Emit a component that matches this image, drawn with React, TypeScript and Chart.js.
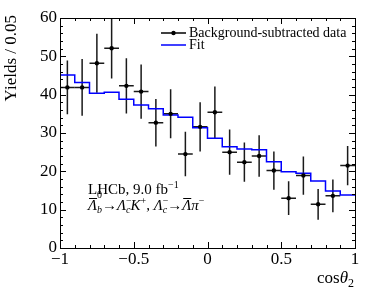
import React, { useEffect, useRef } from 'react';
import { Chart, registerables } from 'chart.js';

Chart.register(...registerables);

// ---- data ----
const binCenters = [-0.95, -0.85, -0.75, -0.65, -0.55, -0.45, -0.35, -0.25, -0.15, -0.05,
  0.05, 0.15, 0.25, 0.35, 0.45, 0.55, 0.65, 0.75, 0.85, 0.95];
const dataValues = [41.9, 41.9, 48.2, 52.1, 42.3, 40.8, 32.7, 35.0, 24.5, 31.6,
  35.4, 25.0, 22.4, 24.0, 20.2, 13.0, 18.9, 11.4, 13.6, 21.5];
const dataErrors = [7.0, 7.4, 7.7, 7.9, 7.2, 7.1, 6.2, 6.4, 5.8, 6.4,
  6.7, 5.9, 5.1, 5.4, 5.0, 4.4, 5.0, 4.0, 4.3, 5.1];
const binHalfWidth = 0.05;
const fitEdges = [-1, -0.9, -0.8, -0.7, -0.6, -0.5, -0.4, -0.3, -0.2, -0.1, 0,
  0.1, 0.2, 0.3, 0.4, 0.5, 0.6, 0.7, 0.8, 0.9, 1];
const fitValues = [45.1, 43.2, 40.4, 40.6, 38.8, 37.3, 36.3, 34.7, 34.1, 31.4,
  28.6, 26.4, 25.8, 25.6, 22.5, 19.9, 19.5, 17.5, 14.9, 13.8];
const legendLabels = ['Background-subtracted data', 'Fit'];
const yTitle = 'Yields / 0.05';

const SERIF = '"Liberation Serif", "DejaVu Serif", serif';

type Seg = { t: string; it?: boolean; sz?: number; dy?: number; ol?: boolean; noAdv?: boolean };

function drawSegs(ctx: CanvasRenderingContext2D, x: number, y: number, segs: Seg[], base: number) {
  let cx = x;
  for (const s of segs) {
    const size = s.sz ?? base;
    ctx.font = `${s.it ? 'italic ' : ''}${size}px ${SERIF}`;
    const w = ctx.measureText(s.t).width;
    ctx.fillText(s.t, cx, y + (s.dy ?? 0));
    if (s.ol) {
      ctx.save();
      ctx.lineWidth = 1;
      ctx.strokeStyle = '#000';
      ctx.beginPath();
      const oy = Math.round(y + (s.dy ?? 0) - size * 0.8) + 0.5;
      ctx.moveTo(cx + 1, oy);
      ctx.lineTo(cx + w, oy);
      ctx.stroke();
      ctx.restore();
    }
    if (!s.noAdv) cx += w;
  }
  return cx;
}

const fmt = (v: number) => {
  const r = Math.round(v * 10) / 10;
  return String(r).replace('-', '\u2212');
};

const decor = {
  id: 'decor',
  beforeDatasetsDraw(chart: any) {
    const { ctx, chartArea: a } = chart;
    const xs = chart.scales.x;
    const ys = chart.scales.y;
    ctx.save();
    ctx.beginPath();
    ctx.rect(a.left, a.top, a.right - a.left, a.bottom - a.top);
    ctx.clip();
    ctx.strokeStyle = '#1a1a1a';
    ctx.lineWidth = 1.5;
    binCenters.forEach((c, i) => {
      const px = xs.getPixelForValue(c);
      const py = ys.getPixelForValue(dataValues[i]);
      ctx.beginPath();
      ctx.moveTo(px, ys.getPixelForValue(dataValues[i] - dataErrors[i]));
      ctx.lineTo(px, ys.getPixelForValue(dataValues[i] + dataErrors[i]));
      ctx.moveTo(xs.getPixelForValue(c - binHalfWidth), py);
      ctx.lineTo(xs.getPixelForValue(c + binHalfWidth), py);
      ctx.stroke();
    });
    ctx.restore();
  },
  afterDraw(chart: any) {
    const { ctx, chartArea: a } = chart;
    const xs = chart.scales.x;
    const ys = chart.scales.y;
    ctx.save();
    // frame
    ctx.strokeStyle = '#000';
    ctx.lineWidth = 1;
    ctx.strokeRect(Math.round(a.left) + 0.5, Math.round(a.top) + 0.5,
      Math.round(a.right - a.left), Math.round(a.bottom - a.top));
    // ticks
    ctx.beginPath();
    for (let i = 0; i <= 20; i++) {
      const v = -1 + i * 0.1;
      const major = i % 5 === 0;
      const len = major ? 6 : 3;
      const px = Math.round(xs.getPixelForValue(v)) + 0.5;
      ctx.moveTo(px, a.bottom);
      ctx.lineTo(px, a.bottom - len);
      ctx.moveTo(px, a.top);
      ctx.lineTo(px, a.top + len);
    }
    for (let i = 0; i <= 30; i++) {
      const v = i * 2;
      const major = i % 5 === 0;
      const len = major ? 6 : 3;
      const py = Math.round(ys.getPixelForValue(v)) + 0.5;
      ctx.moveTo(a.left, py);
      ctx.lineTo(a.left + len, py);
      ctx.moveTo(a.right, py);
      ctx.lineTo(a.right - len, py);
    }
    ctx.stroke();

    ctx.fillStyle = '#000';
    ctx.textAlign = 'left';
    ctx.textBaseline = 'alphabetic';

    // y title
    ctx.save();
    ctx.translate(16, a.top - 3);
    ctx.rotate(-Math.PI / 2);
    ctx.textAlign = 'right';
    ctx.font = `17px ${SERIF}`;
    ctx.fillText(yTitle, 0, 0);
    ctx.restore();

    // x title: cos theta_2
    {
      const segs: Seg[] = [
        { t: 'cos' },
        { t: '\u03b8', it: true },
        { t: '2', sz: 12, dy: 4 },
      ];
      let w = 0;
      for (const s of segs) {
        ctx.font = `${s.it ? 'italic ' : ''}${s.sz ?? 17}px ${SERIF}`;
        w += ctx.measureText(s.t).width;
      }
      drawSegs(ctx, 354 - w, 283, segs, 17);
    }

    // legend
    const lx0 = 161, lx1 = 186;
    const ly0 = 33, ly1 = 45;
    ctx.strokeStyle = '#000';
    ctx.lineWidth = 1.5;
    ctx.beginPath();
    ctx.moveTo(lx0, ly0);
    ctx.lineTo(lx1, ly0);
    ctx.stroke();
    ctx.beginPath();
    ctx.arc((lx0 + lx1) / 2, ly0, 2.2, 0, Math.PI * 2);
    ctx.fill();
    ctx.strokeStyle = '#0000ff';
    ctx.beginPath();
    ctx.moveTo(lx0, ly1);
    ctx.lineTo(lx1, ly1);
    ctx.stroke();
    ctx.font = `14px ${SERIF}`;
    ctx.textBaseline = 'middle';
    ctx.fillText(legendLabels[0], 189, ly0);
    ctx.fillText(legendLabels[1], 189, ly1);
    ctx.textBaseline = 'alphabetic';

    // LHCb annotation
    drawSegs(ctx, 88, 194, [
      { t: 'LHCb, 9.0 fb' },
      { t: '\u22121', sz: 10, dy: -6 },
    ], 15);
    drawSegs(ctx, 88, 210, [
      { t: '\u039b', it: true, ol: true },
      { t: '0', sz: 10, dy: -12, noAdv: true },
      { t: 'b', it: true, sz: 10, dy: 3 },
      { t: '\u2192' },
      { t: '\u039b', it: true },
      { t: '\u2212', sz: 10, dy: -6, noAdv: true },
      { t: 'c', it: true, sz: 10, dy: 3 },
      { t: 'K', it: true },
      { t: '+', sz: 10, dy: -6 },
      { t: ', ' },
      { t: '\u039b', it: true },
      { t: '\u2212', sz: 10, dy: -6, noAdv: true },
      { t: 'c', it: true, sz: 10, dy: 3 },
      { t: '\u2192' },
      { t: '\u039b', it: true, ol: true },
      { t: '\u03c0', it: true },
      { t: '\u2212', sz: 10, dy: -6 },
    ], 15);
    ctx.restore();
  },
};

export default function App() {
  const ref = useRef<HTMLCanvasElement>(null);
  useEffect(() => {
    document.body.style.margin = '0';
    const canvas = ref.current!;
    const chart = new Chart(canvas, {
      type: 'scatter',
      data: {
        datasets: [
          {
            label: legendLabels[0],
            data: binCenters.map((x, i) => ({ x, y: dataValues[i] })),
            pointRadius: 2.2,
            pointBackgroundColor: '#000',
            pointBorderWidth: 0,
            showLine: false,
          },
          {
            label: legendLabels[1],
            data: fitEdges.map((x, i) => ({ x, y: fitValues[Math.min(i, fitValues.length - 1)] })),
            showLine: true,
            stepped: 'before',
            borderColor: '#0000ff',
            borderWidth: 1.5,
            pointRadius: 0,
            fill: false,
          },
        ],
      },
      options: {
        animation: false,
        responsive: false,
        devicePixelRatio: 1,
        layout: { padding: { left: 0, right: 19, top: 18, bottom: 0 } },
        plugins: { legend: { display: false }, tooltip: { enabled: false } },
        scales: {
          x: {
            type: 'linear',
            min: -1,
            max: 1,
            grid: { display: false, drawTicks: false },
            border: { display: false },
            ticks: {
              stepSize: 0.5,
              color: '#000',
              padding: 1,
              maxRotation: 0,
              font: { family: SERIF, size: 17 },
              callback: (v: any) => fmt(Number(v)),
            },
            afterFit: (s: any) => { s.height = 48; },
          },
          y: {
            min: 0,
            max: 60,
            grid: { display: false, drawTicks: false },
            border: { display: false },
            ticks: {
              stepSize: 10,
              color: '#000',
              padding: 3,
              font: { family: SERIF, size: 17 },
              callback: (v: any) => fmt(Number(v)),
            },
            afterFit: (s: any) => { s.width = 60; },
          },
        },
      },
      plugins: [decor],
    });
    return () => chart.destroy();
  }, []);
  return (
    <div style={{ position: 'fixed', left: 0, top: 0, width: 374, height: 296 }}>
      <canvas ref={ref} width={374} height={296} style={{ width: 374, height: 296, display: 'block' }} />
    </div>
  );
}
